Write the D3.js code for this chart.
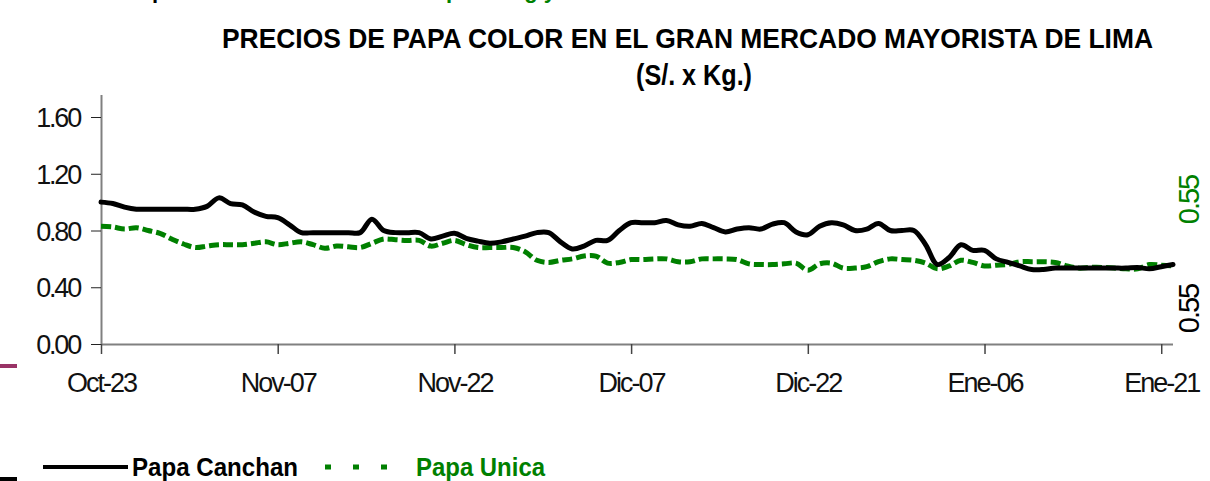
<!DOCTYPE html>
<html lang="es">
<head>
<meta charset="UTF-8">
<title>Precios de papa color - GMML</title>
<script src="https://d3js.org/d3.v7.min.js"></script>
<style>
  body { margin: 0; background: #fff; }
  svg { display: block; font-family: "Liberation Sans", Arial, sans-serif; }
</style>
</head>
<body>
<svg id="chart" width="1210" height="481"></svg>
<script>
// etiquetas del eje x (cada 15 dias)
var tickLabels = ["Oct-23", "Nov-07", "Nov-22", "Dic-07", "Dic-22", "Ene-06", "Ene-21"];
var yTicks = [0, 0.4, 0.8, 1.2, 1.6];

// precios diarios S/. x Kg
var canchan = [
  1.00, 0.99, 0.965, 0.95, 0.95, 0.95, 0.95, 0.95, 0.95, 0.97,
  1.03, 0.99, 0.98, 0.93, 0.90, 0.89, 0.84, 0.785, 0.785, 0.785,
  0.785, 0.785, 0.785, 0.88, 0.80, 0.785, 0.785, 0.785, 0.74, 0.76,
  0.78, 0.745, 0.725, 0.71, 0.72, 0.74, 0.76, 0.785, 0.785, 0.72,
  0.67, 0.69, 0.73, 0.73, 0.80, 0.855, 0.855, 0.855, 0.87, 0.84,
  0.83, 0.85, 0.82, 0.79, 0.81, 0.82, 0.81, 0.845, 0.855, 0.79,
  0.77, 0.83, 0.855, 0.84, 0.80, 0.81, 0.85, 0.80, 0.80, 0.80,
  0.70, 0.56, 0.61, 0.70, 0.66, 0.66, 0.60, 0.575, 0.55, 0.525,
  0.525, 0.535, 0.535, 0.535, 0.535, 0.535, 0.535, 0.535, 0.54, 0.53,
  0.545, 0.56
];
var unica = [
  0.83, 0.825, 0.81, 0.82, 0.80, 0.78, 0.74, 0.705, 0.68, 0.69,
  0.70, 0.70, 0.70, 0.71, 0.72, 0.70, 0.71, 0.72, 0.70, 0.675,
  0.69, 0.685, 0.68, 0.71, 0.74, 0.735, 0.73, 0.73, 0.69, 0.71,
  0.73, 0.70, 0.68, 0.68, 0.68, 0.68, 0.65, 0.59, 0.575, 0.59,
  0.60, 0.62, 0.62, 0.57, 0.575, 0.595, 0.595, 0.60, 0.60, 0.58,
  0.58, 0.60, 0.60, 0.60, 0.595, 0.565, 0.56, 0.56, 0.565, 0.57,
  0.52, 0.565, 0.57, 0.535, 0.535, 0.545, 0.58, 0.60, 0.595, 0.59,
  0.57, 0.53, 0.55, 0.59, 0.575, 0.55, 0.555, 0.56, 0.58, 0.58,
  0.58, 0.575, 0.55, 0.535, 0.54, 0.54, 0.535, 0.53, 0.53, 0.56,
  0.555, 0.55
];

var svg = d3.select("#chart");
var x = d3.scaleLinear().domain([0, canchan.length - 1]).range([101, 1173]);
var y = d3.scaleLinear().domain([0, 1.6]).range([344, 117]);

// texto cortado arriba (solo se ven los trazos inferiores)
svg.append("text").attr("x", 103).attr("y", -2)
  .style("font-size", "22px").style("font-weight", "bold").attr("fill", "#000")
  .text("Comparativo");
svg.append("text").attr("x", 446).attr("y", -2)
  .style("font-size", "22px").style("font-weight", "bold").attr("fill", "#008000")
  .text("por el kg y");

// titulo
svg.append("text").attr("x", 222).attr("y", 48)
  .attr("textLength", 931).attr("lengthAdjust", "spacingAndGlyphs")
  .style("font-size", "28px").style("font-weight", "bold")
  .text("PRECIOS DE PAPA COLOR EN EL GRAN MERCADO MAYORISTA DE LIMA");
svg.append("text").attr("x", 636).attr("y", 85)
  .attr("textLength", 116).attr("lengthAdjust", "spacingAndGlyphs")
  .style("font-size", "30px").style("font-weight", "bold")
  .text("(S/. x Kg.)");

// eje y
var yAxis = svg.append("g")
  .attr("transform", "translate(101,0)")
  .call(d3.axisLeft(y).tickValues(yTicks).tickFormat(d3.format(".2f")).tickSize(10).tickPadding(11));
yAxis.select(".domain").attr("stroke", "#808080").attr("stroke-width", 2)
  .attr("d", "M0.5,95V344");
yAxis.selectAll(".tick line").attr("stroke", "#222");
yAxis.selectAll(".tick text")
  .style("font-size", "27px").style("letter-spacing", "-2.2px")
  .attr("fill", "#111").attr("dy", "0.36em");

// eje x
var xAxis = svg.append("g")
  .attr("transform", "translate(0,344)")
  .call(d3.axisBottom(x).tickValues(d3.range(0, 91, 15))
    .tickFormat(function(d) { return tickLabels[d / 15]; }).tickSize(10).tickPadding(19));
xAxis.select(".domain").attr("stroke", "#808080").attr("stroke-width", 2)
  .attr("d", "M101,0.5H1173");
xAxis.selectAll(".tick line").attr("stroke", "#444").attr("stroke-width", 1.5);
xAxis.selectAll(".tick text")
  .style("font-size", "27px").style("letter-spacing", "-2px").attr("fill", "#111");

// lineas
var line = d3.line()
  .x(function(d, i) { return x(i); })
  .y(function(d) { return y(d); })
  .curve(d3.curveCatmullRom.alpha(0.5));

svg.append("path").datum(unica)
  .attr("d", line).attr("fill", "none")
  .attr("stroke", "#008000").attr("stroke-width", 5)
  .attr("stroke-dasharray", "10,4");

svg.append("path").datum(canchan)
  .attr("d", line).attr("fill", "none")
  .attr("stroke", "#000").attr("stroke-width", 5)
  .attr("stroke-linejoin", "round").attr("stroke-linecap", "round");

// etiquetas del eje derecho
svg.append("text").attr("transform", "translate(1199,200) rotate(-90)")
  .attr("text-anchor", "middle").style("font-size", "29px").style("letter-spacing", "-2px")
  .attr("fill", "#008000").text("0.55");
svg.append("text").attr("transform", "translate(1199,309) rotate(-90)")
  .attr("text-anchor", "middle").style("font-size", "29px").style("letter-spacing", "-2px")
  .attr("fill", "#000").text("0.55");

// leyenda
svg.append("line").attr("x1", 43).attr("x2", 128).attr("y1", 467).attr("y2", 467)
  .attr("stroke", "#000").attr("stroke-width", 4);
svg.append("text").attr("x", 132).attr("y", 476)
  .attr("textLength", 166).attr("lengthAdjust", "spacingAndGlyphs")
  .style("font-size", "26px").style("font-weight", "bold").text("Papa Canchan");
svg.append("line").attr("x1", 325).attr("x2", 392).attr("y1", 467).attr("y2", 467)
  .attr("stroke", "#008000").attr("stroke-width", 5).attr("stroke-dasharray", "6,22");
svg.append("text").attr("x", 416).attr("y", 476)
  .attr("textLength", 129).attr("lengthAdjust", "spacingAndGlyphs")
  .style("font-size", "26px").style("font-weight", "bold").attr("fill", "#008000").text("Papa Unica");

// marcas sueltas del borde izquierdo
svg.append("rect").attr("x", 0).attr("y", 364).attr("width", 17).attr("height", 4).attr("fill", "#993366");
svg.append("rect").attr("x", 0).attr("y", 477).attr("width", 17).attr("height", 4).attr("fill", "#000");
</script>
</body>
</html>
